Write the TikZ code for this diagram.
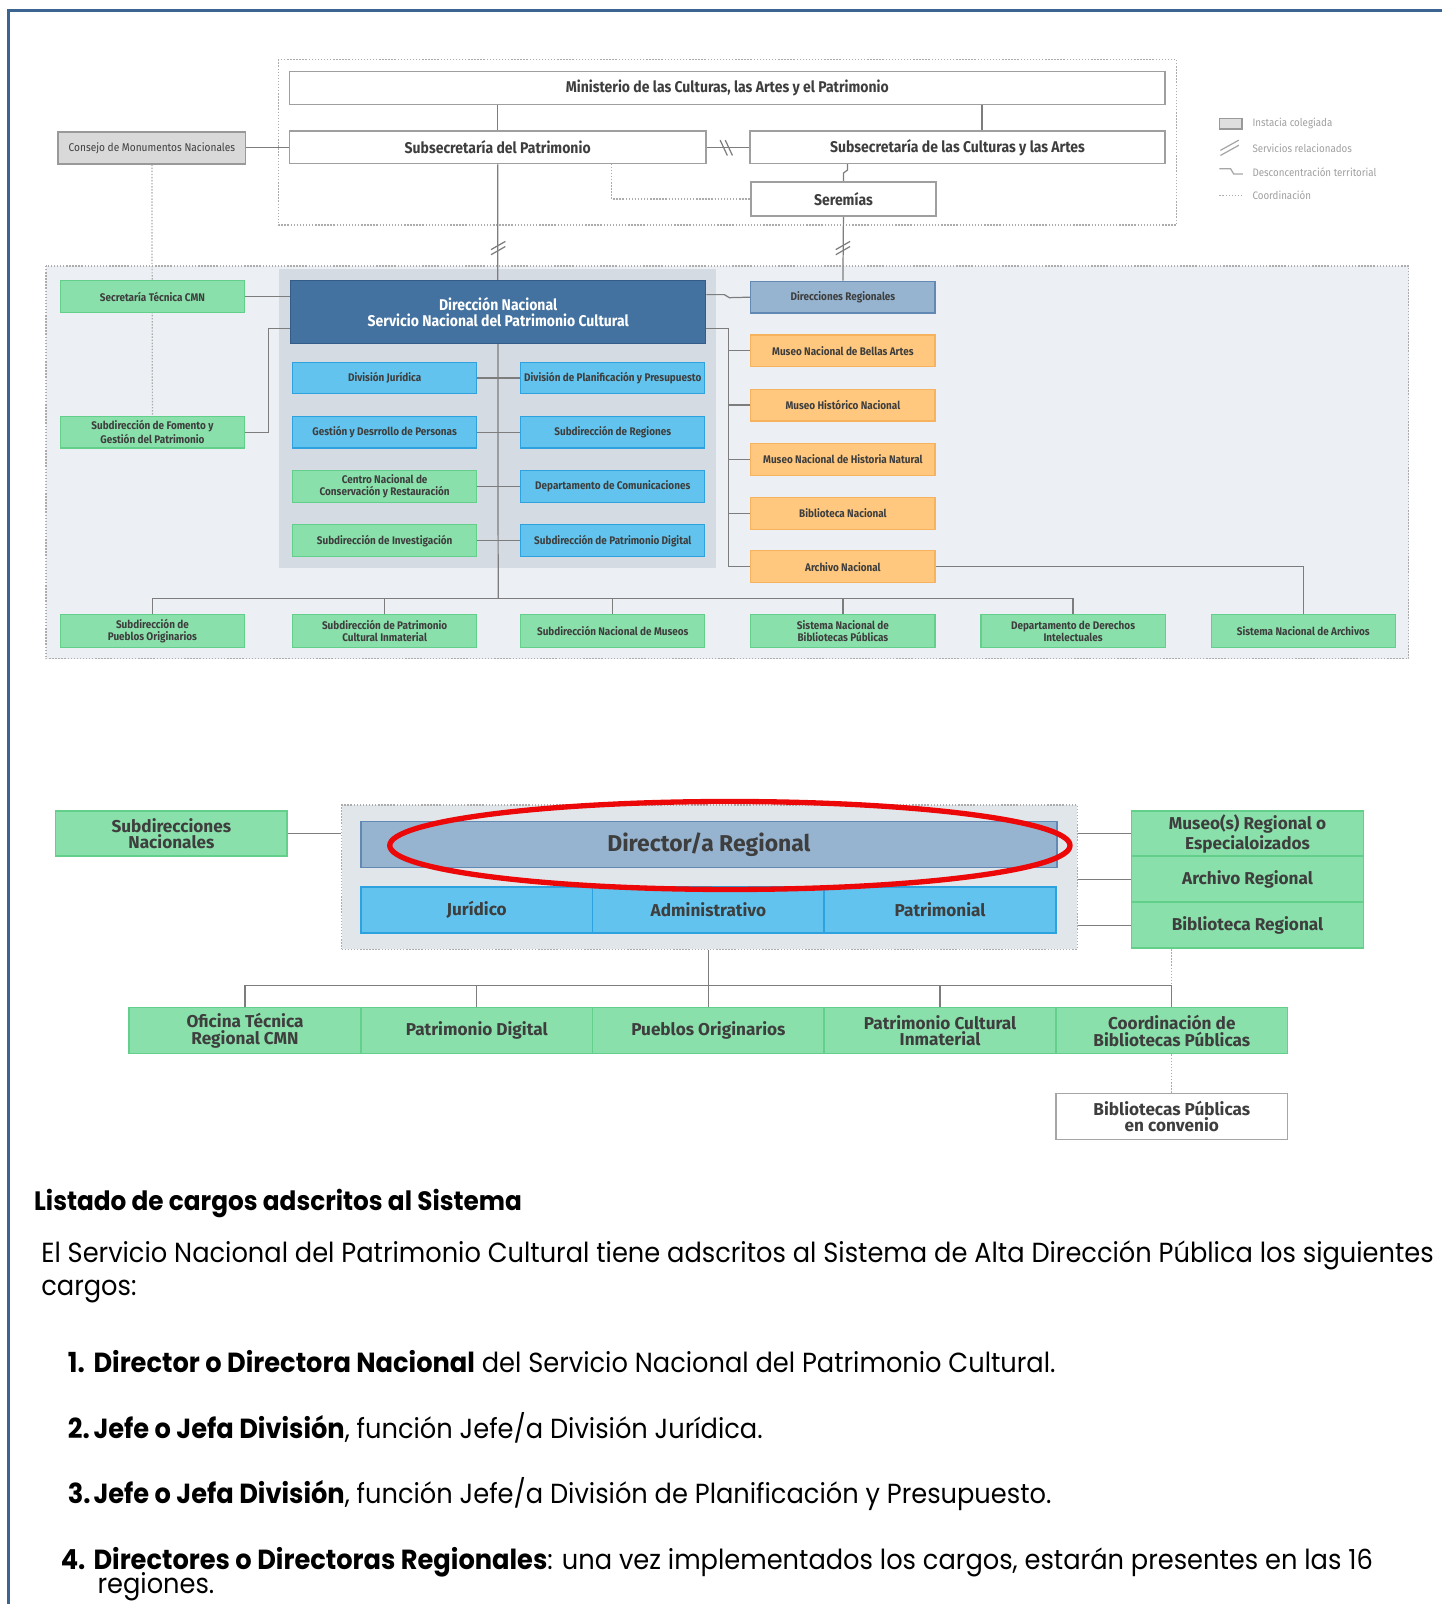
\documentclass[tikz,border=0pt]{standalone}
\usepackage{fontspec}
\setmainfont[FakeStretch=0.93]{Poppins}
\newfontfamily\chartfont{Fira Sans}
\newfontfamily\smallfont[FakeStretch=0.9]{Fira Sans}
\usepackage{tikz}
\usetikzlibrary{calc,positioning}
\definecolor{grn}{RGB}{138,224,170}
\definecolor{grnd}{RGB}{98,208,138}
\definecolor{blu}{RGB}{98,196,238}
\definecolor{blud}{RGB}{45,162,222}
\definecolor{org}{RGB}{255,200,126}
\definecolor{orgd}{RGB}{246,178,92}
\definecolor{nav}{RGB}{68,114,160}
\definecolor{navd}{RGB}{52,92,135}
\definecolor{reg}{RGB}{150,180,208}
\definecolor{regd}{RGB}{98,136,180}
\definecolor{pnl}{RGB}{236,240,245}
\definecolor{pnld}{RGB}{213,219,227}
\definecolor{pnlb}{RGB}{225,230,235}
\definecolor{cgray}{RGB}{217,217,217}
\definecolor{lin}{RGB}{125,125,125}
\definecolor{txt}{RGB}{62,62,62}
\definecolor{frame}{RGB}{60,100,145}
\definecolor{ring}{RGB}{236,8,8}
\pgfdeclarelayer{panellayer}
\pgfdeclarelayer{edgelayer}
\pgfsetlayers{panellayer,edgelayer,main}

\begin{document}
\begin{tikzpicture}[x=0.5pt,y=-0.5pt,
conn/.style={draw=lin,line width=0.6pt},
coord/.style={draw=gray!65,line width=0.6pt,dash pattern=on 0.7pt off 0.8pt},
sbox/.style={rectangle,draw,line width=0.6pt,inner sep=0.5pt,align=center,text=txt,minimum width=90pt,minimum height=15.5pt,font=\smallfont\bfseries\fontsize{5.4}{5.6}\selectfont},
gbox/.style={sbox,fill=grn,draw=grnd},
bbox/.style={sbox,fill=blu,draw=blud},
obox/.style={sbox,fill=org,draw=orgd},
wbox/.style={sbox,fill=white,draw=gray!75,line width=0.8pt,minimum height=16pt,font=\smallfont\bfseries\fontsize{7.6}{8}\selectfont},
lbox/.style={rectangle,draw,line width=0.8pt,inner sep=1pt,align=center,text=txt,minimum width=113.25pt,minimum height=22.5pt,font=\chartfont\bfseries\fontsize{8.4}{8.2}\selectfont},
lgbox/.style={lbox,fill=grn,draw=grnd},
lbbox/.style={lbox,fill=blu,draw=blud},
leg/.style={anchor=west,inner sep=0pt,text=gray!75,font=\smallfont\fontsize{5.3}{6}\selectfont},
body/.style={anchor=base west,inner sep=0pt,text=black,font=\fontsize{13.5}{16}\selectfont}]
\useasboundingbox (0,0) rectangle (1410,1568);
\draw[frame,line width=1.6pt] (1410,10) -- (8,10) -- (8,1568);

\begin{pgfonlayer}{panellayer}
\draw[coord,fill=white] (272,58) rectangle (1150,220);
\draw[coord,fill=pnl] (45,260) rectangle (1377,644);
\fill[pnld] (273,263) rectangle (700,555);
\end{pgfonlayer}

\node[wbox,minimum width=428pt] (M) at (711,86) {Ministerio de las Culturas, las Artes y el Patrimonio};
\node[wbox,minimum width=203.5pt] (SP) at (486.5,144) {Subsecretaría del Patrimonio};
\node[wbox,minimum width=203pt] (SC) at (936,144) {Subsecretaría de las Culturas y las Artes};
\node[wbox,minimum width=90.5pt,minimum height=16.5pt] (SE) at (824.5,194.5) {Seremías};
\node[sbox,fill=cgray,draw=gray!80,line width=0.9pt,minimum width=91.5pt,font=\smallfont\fontsize{5.5}{6}\selectfont] (CMN) at (148.5,144.5) {Consejo de Monumentos Nacionales};

\node[gbox] (ST) at (149,290) {Secretaría Técnica CMN};
\node[gbox] (SF) at (149,422.5) {Subdirección de Fomento y\\Gestión del Patrimonio};
\node[sbox,fill=nav,draw=navd,text=white,minimum width=203pt,minimum height=31pt,font=\smallfont\bfseries\fontsize{7.6}{8}\selectfont] (DN) at (487,305) {Dirección Nacional\\Servicio Nacional del Patrimonio Cultural};
\node[sbox,fill=reg,draw=regd] (DR) at (824,290.5) {Direcciones Regionales};

\node[bbox] (A1) at (376,369.5) {División Jurídica};
\node[bbox] (A2) at (376,422.5) {Gestión y Desrrollo de Personas};
\node[gbox] (A3) at (376,475.5) {Centro Nacional de\\Conservación y Restauración};
\node[gbox] (A4) at (376,528.5) {Subdirección de Investigación};
\node[bbox] (B1) at (599,369.5) {División de Planificación y Presupuesto};
\node[bbox] (B2) at (599,422.5) {Subdirección de Regiones};
\node[bbox] (B3) at (599,475.5) {Departamento de Comunicaciones};
\node[bbox] (B4) at (599,528.5) {Subdirección de Patrimonio Digital};

\node[obox] (O1) at (824,343) {Museo Nacional de Bellas Artes};
\node[obox] (O2) at (824,396) {Museo Histórico Nacional};
\node[obox] (O3) at (824,449) {Museo Nacional de Historia Natural};
\node[obox] (O4) at (824,502) {Biblioteca Nacional};
\node[obox] (O5) at (824,554) {Archivo Nacional};

\node[gbox,minimum height=16pt] (S1) at (149,617) {Subdirección de\\Pueblos Originarios};
\node[gbox,minimum height=16pt] (S2) at (376,617) {Subdirección de Patrimonio\\Cultural Inmaterial};
\node[gbox,minimum height=16pt] (S3) at (599,617) {Subdirección Nacional de Museos};
\node[gbox,minimum height=16pt] (S4) at (824,617) {Sistema Nacional de\\Bibliotecas Públicas};
\node[gbox,minimum height=16pt] (S5) at (1049,617) {Departamento de Derechos\\Intelectuales};
\node[gbox,minimum height=16pt] (S6) at (1274,617) {Sistema Nacional de Archivos};

\coordinate (J) at (487,585);
\coordinate (K) at (712,321);
\coordinate (K0) at (708,288);
\coordinate (MC) at (960,102);
\coordinate (D1) at (598,160);

\node[leg] (L1) at (1224,121) {Instacia colegiada};
\node[leg] (L2) at (1224,145) {Servicios relacionados};
\node[leg] (L3) at (1224,168) {Desconcentración territorial};
\node[leg] (L4) at (1224,191) {Coordinación};
\filldraw[fill=gray!25,draw=gray!80,line width=0.8pt] (1192,116) rectangle (1214,126);
\draw[draw=gray!70,line width=0.6pt] (1193,147) -- (1211,137) (1193,152) -- (1211,142);
\draw[draw=gray!70,line width=0.6pt] (1192,165) -- (1203,165) -- (1206,170) -- (1215,170);
\draw[coord] (1192,191) -- (1214,191);

\begin{pgfonlayer}{edgelayer}
\draw[conn] (M.south -| SP) -- (SP.north);
\draw[conn] (MC) -- (MC |- SC.north);
\draw[conn] (CMN.east) -- (CMN.east -| SP.west);
\draw[conn] (SP.east) -- (SC.west);
\draw[conn] (SE.north) -- ++(0,-8) -- ++(4,-3) -- ++(0,-7);
\draw[conn] (SP.south) -- (J);
\draw[conn] (SE.south) -- (DR.north);
\draw[coord] (CMN.south) -- (SF.north);
\draw[coord] (D1) |- (SE.west);
\draw[conn] (ST.east) -- (ST.east -| DN.west);
\draw[conn] (SF.east) -- ++(23,0) |- (DN.west |- K);
\draw[conn] (DN.east |- K0) -- (K0) -- ++(5,3) -- (DR.west);
\draw[conn] (DN.east |- K) -- (K) |- (O5.west);
\foreach \n in {1,...,4} \draw[conn] (K |- O\n.west) -- (O\n.west);
\draw[conn] (O5.east) -| (S6.north);
\foreach \n in {1,...,4} \draw[conn] (A\n.east) -- (B\n.west);
\draw[conn] (S1.north) |- (J) -| (S5.north);
\foreach \n in {2,3,4} \draw[conn] (S\n.north) -- (S\n.north |- J);
\end{pgfonlayer}
\foreach \x in {487,824} \draw[conn] (\x-7,244) -- (\x+7,236) (\x-7,249) -- (\x+7,241);
\draw[conn] (704,137) -- (711,152) (709,137) -- (716,152);

\node[coord,fill=pnlb,minimum width=359.5pt,minimum height=70.5pt,inner sep=0pt] (P) at (693.5,857.5) {};
\node[lbox,fill=reg,draw=regd,minimum width=340pt,font=\chartfont\bfseries\fontsize{11.2}{12}\selectfont] (DIR) at (693,825.5) {Director/a Regional};
\node[lbbox] (JU) at (466,889.5) {Jurídico};
\node[lbbox] (AD) at (692.5,889.5) {Administrativo};
\node[lbbox] (PA) at (919,889.5) {Patrimonial};
\node[lgbox,minimum height=22pt] (SN) at (167.5,815) {Subdirecciones\\Nacionales};
\node[lgbox,minimum height=22pt] (MR) at (1219.5,815) {Museo(s) Regional o\\Especialoizados};
\node[lgbox] (AR) at (1219.5,859.5) {Archivo Regional};
\node[lgbox] (BR) at (1219.5,904.5) {Biblioteca Regional};
\node[lgbox] (T1) at (239.5,1007.5) {Oficina Técnica\\Regional CMN};
\node[lgbox] (T2) at (466,1007.5) {Patrimonio Digital};
\node[lgbox] (T3) at (692.5,1007.5) {Pueblos Originarios};
\node[lgbox] (T4) at (919,1007.5) {Patrimonio Cultural\\Inmaterial};
\node[lgbox] (T5) at (1145.5,1007.5) {Coordinación de\\Bibliotecas Públicas};
\node[lbox,fill=white,draw=gray!70] (BC) at (1145.5,1091.5) {Bibliotecas Públicas\\en convenio};
\coordinate (H) at (692.5,963);
\draw[ring,line width=2.6pt] (713.5,826.5) ellipse [x radius=166.25pt,y radius=21.5pt];

\begin{pgfonlayer}{edgelayer}
\draw[conn] (SN.east) -- (SN.east -| P.west);
\foreach \n in {MR,AR,BR} \draw[conn] (P.east |- \n.west) -- (\n.west);
\draw[conn] (T3.north |- P.south) -- (T3.north);
\draw[conn] (T1.north) |- (H) -| (T5.north);
\foreach \n in {2,4} \draw[conn] (T\n.north) -- (T\n.north |- H);
\draw[coord] (T5.north |- BR.south) -- (T5.north |- H);
\draw[coord] (T5.south) -- (BC.north);
\end{pgfonlayer}

\node[body,font=\bfseries\fontsize{13}{15}\selectfont] (TI) at (33,1183) {Listado de cargos adscritos al Sistema};
\node[body] (P1) at (40,1234) {El Servicio Nacional del Patrimonio Cultural tiene adscritos al Sistema de Alta Dirección Pública los siguientes};
\node[body] (P2) at (40,1266) {cargos:};
\node[body] (N1) at (66,1342) {\textbf{1.}};
\node[body] (I1) at (91,1342) {\textbf{Director o Directora Nacional} del Servicio Nacional del Patrimonio Cultural.};
\node[body] (N2) at (66,1406) {\textbf{2.}};
\node[body] (I2) at (91,1406) {\textbf{Jefe o Jefa División}, función Jefe/a División Jurídica.};
\node[body] (N3) at (66,1470) {\textbf{3.}};
\node[body] (I3) at (91,1470) {\textbf{Jefe o Jefa División}, función Jefe/a División de Planificación y Presupuesto.};
\node[body] (N4) at (59,1534) {\textbf{4.}};
\node[body] (I4) at (91,1534) {\textbf{Directores o Directoras Regionales}: una vez implementados los cargos, estarán presentes en las 16};
\node[body] (I5) at (95,1558) {regiones.};
\end{tikzpicture}
\end{document}
